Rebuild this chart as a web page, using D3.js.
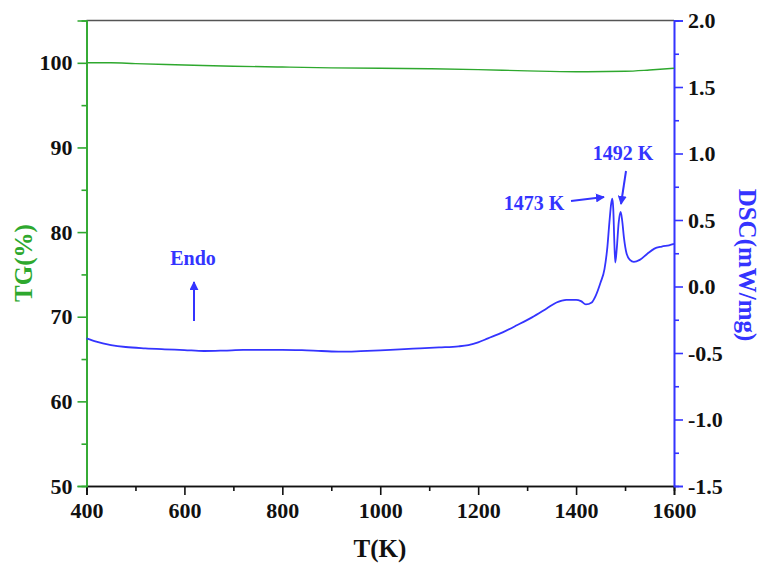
<!DOCTYPE html>
<html><head><meta charset="utf-8">
<script src="https://cdn.jsdelivr.net/npm/d3@7"></script>
<style>body{margin:0;background:#fff}svg text{font-family:"Liberation Serif","Times New Roman",serif;font-weight:bold}</style>
</head><body><svg id="c" width="763" height="565"></svg>
<script>
const dscT = [400,420,450,480,520,560,600,640,680,720,760,800,840,880,920,960,1000,1040,1080,1120,1160,1180,1200,1220,1250,1280,1310,1340,1360,1380,1400,1410,1420,1432,1440,1450,1458,1464,1468,1472,1474,1476,1478,1480,1483,1487,1491,1494,1498,1503,1510,1518,1530,1545,1560,1575,1590,1600];
const dscV = [-0.39,-0.415,-0.44,-0.455,-0.465,-0.472,-0.478,-0.485,-0.482,-0.477,-0.476,-0.476,-0.479,-0.485,-0.49,-0.486,-0.48,-0.472,-0.465,-0.458,-0.45,-0.44,-0.42,-0.39,-0.345,-0.29,-0.232,-0.165,-0.12,-0.10,-0.10,-0.11,-0.135,-0.12,-0.07,0.03,0.13,0.30,0.48,0.63,0.66,0.58,0.35,0.18,0.28,0.48,0.56,0.50,0.36,0.25,0.20,0.185,0.20,0.245,0.285,0.30,0.31,0.32];
const tgT = [400,450,500,600,700,800,900,1000,1100,1200,1300,1400,1500,1550,1600];
const tgV = [100.0,100.0,99.9,99.75,99.6,99.5,99.4,99.35,99.3,99.2,99.05,98.95,99.0,99.15,99.35];
const xTicks = [400,600,800,1000,1200,1400,1600];
const tgTicks = [50,60,70,80,90,100];
const dscTicks = [-1.5,-1.0,-0.5,0.0,0.5,1.0,1.5,2.0];

const green = "#2ea82e", blue = "#3434ff";
const svg = d3.select("#c");
const L = 86.5, R = 674, T = 20.5, B = 486;
const x = d3.scaleLinear().domain([400,1600]).range([L,R]);
const yL = d3.scaleLinear().domain([50,105]).range([B,T]);
const yR = d3.scaleLinear().domain([-1.5,2.0]).range([B,T]);

svg.append("line").attr("x1",L).attr("x2",R).attr("y1",T).attr("y2",T).attr("stroke","#555").attr("stroke-width",1.5);

function styleAxis(g, color){
  g.select(".domain").attr("stroke",color).attr("stroke-width",1.6);
  g.selectAll(".tick line").attr("stroke",color).attr("stroke-width",1.6);
  g.selectAll(".tick text").attr("fill","#111").attr("font-size","22px");
}
const xMinor = d3.range(500,1600,200);
const gxm = svg.append("g").attr("transform",`translate(0,${B})`).call(d3.axisBottom(x).tickValues(xMinor).tickSize(5).tickFormat(""));
styleAxis(gxm,"#111");
const gx = svg.append("g").attr("transform",`translate(0,${B})`).call(d3.axisBottom(x).tickValues(xTicks).tickSize(9).tickPadding(7).tickFormat(d3.format("d")));
styleAxis(gx,"#111");

const gym = svg.append("g").attr("transform",`translate(${L},0)`).call(d3.axisLeft(yL).tickValues(d3.range(55,105,10)).tickSize(5).tickFormat(""));
styleAxis(gym,green);
const gy = svg.append("g").attr("transform",`translate(${L},0)`).call(d3.axisLeft(yL).tickValues(tgTicks).tickSize(9).tickPadding(5));
styleAxis(gy,green);

const grm = svg.append("g").attr("transform",`translate(${R},0)`).call(d3.axisRight(yR).tickValues(d3.range(-1.25,2.0,0.5)).tickSize(5).tickFormat(""));
styleAxis(grm,blue);
const gr = svg.append("g").attr("transform",`translate(${R},0)`).call(d3.axisRight(yR).tickValues(dscTicks).tickSize(9).tickPadding(5).tickFormat(d3.format(".1f")));
styleAxis(gr,blue);
gr.selectAll(".tick text").text(d => d3.format(".1f")(d).replace("−","-"));

const tgData = tgT.map((t,i)=>[t,tgV[i]]);
const dscData = dscT.map((t,i)=>[t,dscV[i]]);
svg.append("path").datum(tgData).attr("fill","none").attr("stroke",green).attr("stroke-width",1.4)
  .attr("d", d3.line().x(d=>x(d[0])).y(d=>yL(d[1])).curve(d3.curveMonotoneX));
svg.append("path").datum(dscData).attr("fill","none").attr("stroke",blue).attr("stroke-width",1.8)
  .attr("d", d3.line().x(d=>x(d[0])).y(d=>yR(d[1])).curve(d3.curveMonotoneX));

svg.append("text").attr("x",380).attr("y",557).attr("text-anchor","middle").attr("font-size","25px").attr("fill","#111").text("T(K)");
svg.append("text").attr("transform","translate(32,263) rotate(-90)").attr("text-anchor","middle").attr("font-size","25px").attr("fill",green).text("TG(%)");
svg.append("text").attr("transform","translate(739,265) rotate(90)").attr("text-anchor","middle").attr("font-size","25px").attr("fill",blue).text("DSC(mW/mg)");

const defs = svg.append("defs");
defs.append("marker").attr("id","ah").attr("viewBox","0 0 10 10").attr("refX",9).attr("refY",5)
  .attr("markerWidth",4.5).attr("markerHeight",4.5).attr("orient","auto")
  .append("path").attr("d","M0,0 L10,5 L0,10 Z").attr("fill",blue);
function arrow(x1,y1,x2,y2){
  svg.append("line").attr("x1",x1).attr("y1",y1).attr("x2",x2).attr("y2",y2)
    .attr("stroke",blue).attr("stroke-width",2).attr("marker-end","url(#ah)");
}
svg.append("text").attr("x",193).attr("y",265).attr("text-anchor","middle").attr("font-size","20px").attr("fill",blue).text("Endo");
arrow(194,321,194,282);
svg.append("text").attr("x",534).attr("y",210).attr("text-anchor","middle").attr("font-size","20px").attr("fill",blue).text("1473 K");
arrow(571,201,604,197);
svg.append("text").attr("x",623).attr("y",160).attr("text-anchor","middle").attr("font-size","20px").attr("fill",blue).text("1492 K");
arrow(626,171,621,204);
</script></body></html>
